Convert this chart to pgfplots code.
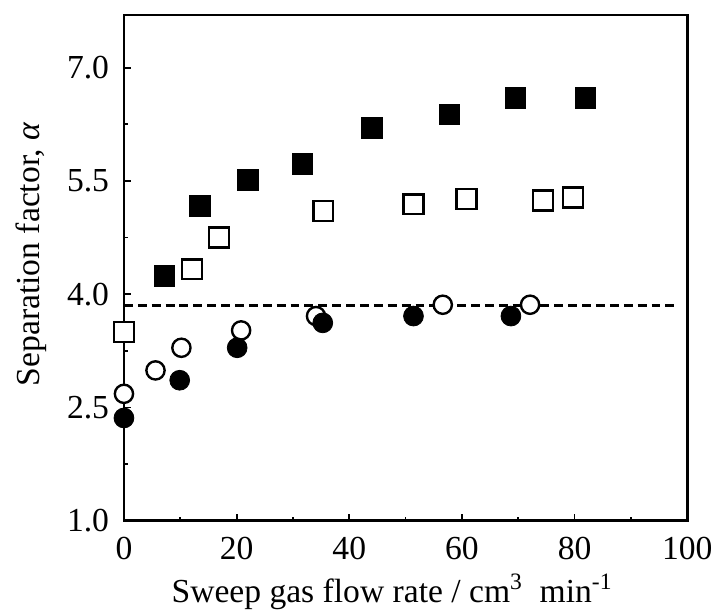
\documentclass[border=0pt]{standalone}
\usepackage{fontspec}
\setmainfont{Liberation Serif}
\usepackage{pgfplots}
\pgfplotsset{compat=1.18}
\usetikzlibrary{calc}

\begin{document}
\begin{tikzpicture}
\begin{axis}[
  scale only axis,
  width=284bp, height=255bp,
  xmin=0, xmax=100, ymin=1, ymax=7.7,
  xtick={0,20,...,100},
  ytick={1,2.5,4,5.5,7},
  minor x tick num=1, minor y tick num=1,
  tick pos=left, tick align=inside,
  major tick length=3.5bp, minor tick length=2bp,
  axis line style={line width=1.3bp},
  every tick/.style={line width=0.9bp, black},
  clip=false,
  /pgf/number format/assume math mode=true,
  tick label style={font=\fontsize{17}{20}\selectfont},
  yticklabel style={xshift=-4bp, /pgf/number format/.cd, fixed, fixed zerofill, precision=1},
  xticklabel style={yshift=-5bp},
  every axis y label/.style={at={(axis description cs:-0.164,0.527)}, rotate=90, anchor=center},
  every axis x label/.style={at={(axis description cs:0.476,-0.161)}, anchor=base},
  label style={font=\fontsize{17}{20}\selectfont},
  xlabel={Sweep gas flow rate / cm\textsuperscript{3}~ min\textsuperscript{-1}},
  ylabel={Separation factor, \textit{α}},
]
% reference level
\addplot[black, line width=1.1bp, dash pattern=on 4.5bp off 2.5bp] coordinates {(0,3.85)(98,3.85)};

% open squares
\addplot[only marks, mark=square*, mark size=5bp,
  mark options={draw=black, fill=white, line width=1.2bp}] coordinates {
  (0,3.50)(12.1,4.33)(16.9,4.75)(35.4,5.10)(51.4,5.19)(60.8,5.26)(74.4,5.24)(79.7,5.28)
};

% filled squares
\addplot[only marks, mark=square*, mark size=5.2bp,
  mark options={draw=black, fill=black}] coordinates {
  (7.2,4.24)(13.5,5.17)(22.0,5.51)(31.7,5.73)(44.0,6.20)(57.8,6.38)(69.5,6.60)(81.9,6.60)
};

% open circles
\addplot[only marks, mark=*, mark size=4.6bp,
  mark options={draw=black, fill=white, line width=1.2bp}] coordinates {
  (0,2.68)(5.6,2.99)(10.2,3.29)(20.8,3.52)(34.1,3.71)(56.6,3.86)(72.1,3.86)
};

% filled circles
\addplot[only marks, mark=*, mark size=5bp,
  mark options={draw=black, fill=black}] coordinates {
  (0,2.36)(9.9,2.86)(20.1,3.29)(35.3,3.62)(51.4,3.71)(68.7,3.71)
};
\end{axis}
\path[use as bounding box] ($(current axis.south west)+(-62.5bp,-43.5bp)$)
  rectangle ($(current axis.north east)+(13bp,7.5bp)$);
\end{tikzpicture}
\end{document}
